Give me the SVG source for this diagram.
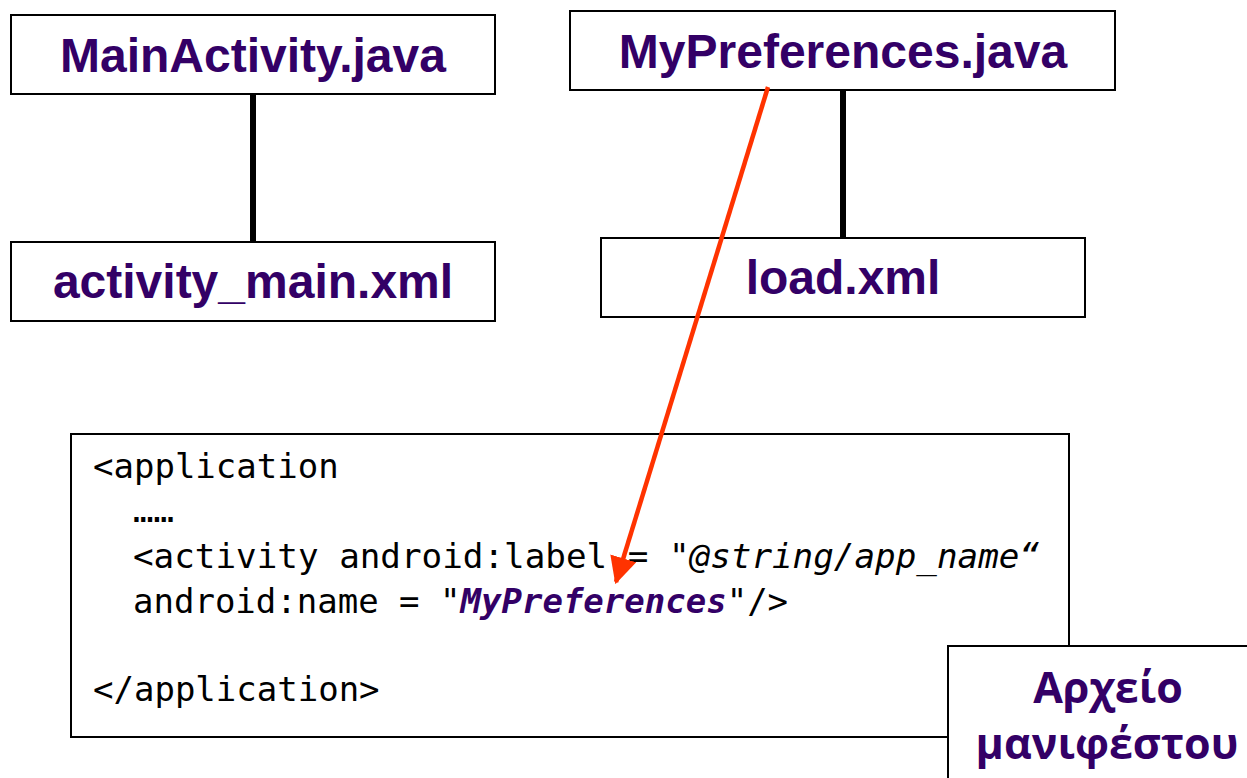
<svg xmlns="http://www.w3.org/2000/svg" width="1247" height="778" viewBox="0 0 1247 778">
  <style>
    .box { fill: #ffffff; stroke: #000000; stroke-width: 2; }
    .title { font-family: "Liberation Sans", Arial, sans-serif; font-weight: bold; font-size: 48px; fill: #330066; text-anchor: middle; }
    .code { font-family: "DejaVu Sans Mono", "Liberation Mono", monospace; font-size: 34px; fill: #000000; }
    .it { font-style: italic; }
    .name { font-style: italic; font-weight: bold; fill: #330066; }
    .greek { font-family: "Open Sans", "Noto Sans", sans-serif; font-weight: bold; font-size: 43px; fill: #330066; text-anchor: middle; }
    .link { stroke: #000000; stroke-width: 6; }
    .ref { stroke: #ff3300; stroke-width: 4.5; fill: none; }
  </style>
  <defs>
    <marker id="arrowhead" markerWidth="6" markerHeight="6" refX="5.5" refY="3" orient="auto" markerUnits="strokeWidth">
      <path d="M0,0 L6,3 L0,6 z" fill="#ff3300"/>
    </marker>
  </defs>
  <rect width="1247" height="778" fill="#ffffff"/>

  <!-- connectors -->
  <g id="connectors">
    <line class="link" x1="253" y1="94" x2="253" y2="242"/>
    <line class="link" x1="843" y1="88" x2="843" y2="238"/>
  </g>

  <g id="main-activity">
    <rect class="box" x="11" y="15" width="484" height="79"/>
    <text class="title" x="253" y="72">MainActivity.java</text>
  </g>

  <g id="activity-main-xml">
    <rect class="box" x="11" y="242" width="484" height="79"/>
    <text class="title" x="253" y="298">activity_main.xml</text>
  </g>

  <g id="my-preferences">
    <rect class="box" x="570" y="11" width="545" height="79"/>
    <text class="title" x="843" y="68">MyPreferences.java</text>
  </g>

  <g id="load-xml">
    <rect class="box" x="601" y="238" width="484" height="79"/>
    <text class="title" x="843" y="294">load.xml</text>
  </g>

  <g id="manifest-code">
    <rect class="box" x="71" y="434" width="998" height="303"/>
    <text class="code" x="93" y="478">&lt;application</text>
    <text class="code" x="133" y="522">……</text>
    <text class="code" x="133" y="568" textLength="907" lengthAdjust="spacingAndGlyphs">&lt;activity android:label = <tspan class="it">"@string/app_name“</tspan></text>
    <text class="code" x="133" y="613">android:name = <tspan class="it">"</tspan><tspan class="name">MyPreferences</tspan><tspan class="it">"</tspan>/&gt;</text>
    <text class="code" x="93" y="701">&lt;/application&gt;</text>
  </g>

  <g id="manifest-label">
    <rect class="box" x="948" y="646" width="310" height="140"/>
    <text class="greek" x="1108" y="703">Αρχείο</text>
    <text class="greek" x="1107" y="759">μανιφέστου</text>
  </g>

  <g id="reference-arrow">
    <line class="ref" x1="768" y1="87" x2="616" y2="582" marker-end="url(#arrowhead)"/>
  </g>
</svg>
